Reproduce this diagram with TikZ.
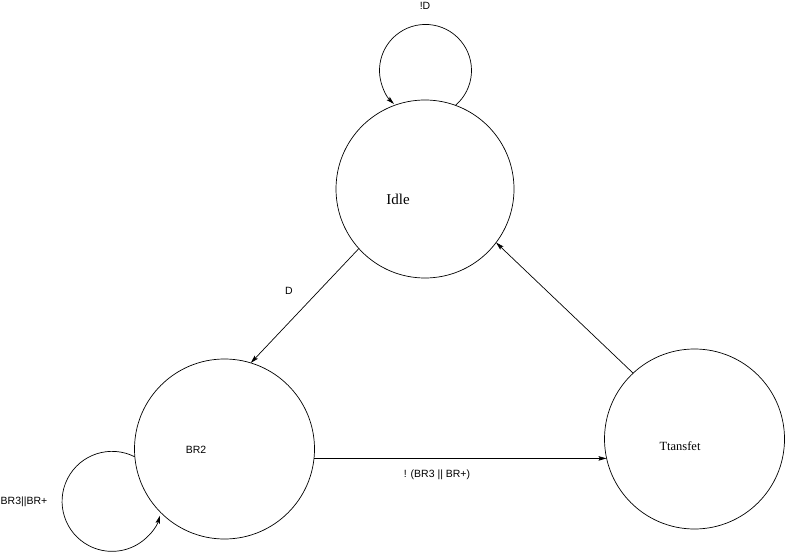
\documentclass[tikz,border=0pt]{standalone}
\usepackage{fontspec}
\setmainfont{Liberation Serif}
\newfontfamily\labelfont{Liberation Sans}
\usetikzlibrary{arrows.meta}
\begin{document}
\begin{tikzpicture}[x=1pt,y=1pt,
  state/.style={draw, circle, line width=0.7pt, inner sep=0pt, outer sep=0pt},
  edge/.style={draw, line width=0.7pt, -{Stealth[length=8pt,width=4.5pt,inset=1.5pt]}},
  edgelabel/.style={font=\labelfont\fontsize{10.5}{12}\selectfont, inner sep=0pt},
  statename/.style={inner sep=0pt}]
\useasboundingbox (0,0) rectangle (786,555);

% states
\node[state, minimum size=178pt] (idle) at (425,366) {};
\node[state, minimum size=180pt] (br2) at (224.5,106) {};
\node[state, minimum size=180pt] (transfer) at (694.5,116) {};

% state names
\node[statename, font=\fontsize{15}{17}\selectfont] (idletext) at (398,356) {Idle};
\node[statename, font=\labelfont\fontsize{10.5}{12}\selectfont] (br2text) at (196,105) {BR2};
\node[statename, font=\fontsize{12.5}{14}\selectfont] (transfertext) at (680,109) {Ttansfet};

% transitions
\draw[edge] (idle.222.3) -- (br2.73.4);
\draw[edge] (transfer.133) -- (idle.-37.5);
\draw[edge] (br2.-6.3) -- (br2.-6.3 -| transfer.192.6);
\draw[edge] (idle.70.6) arc[start angle=-49.4, end angle=226.7, radius=46pt];
\draw[edge] (br2.185.7) arc[start angle=62.9, end angle=343.4, radius=50pt];

% transition labels
\node[edgelabel] (lblnotd) at (425,549) {!D};
\node[edgelabel] (lbld) at (289,264) {D};
\node[edgelabel] (lblexit) at (437,80) {! (BR3 || BR+)};
\node[edgelabel] (lblstay) at (24,53) {BR3||BR+};
\end{tikzpicture}
\end{document}
